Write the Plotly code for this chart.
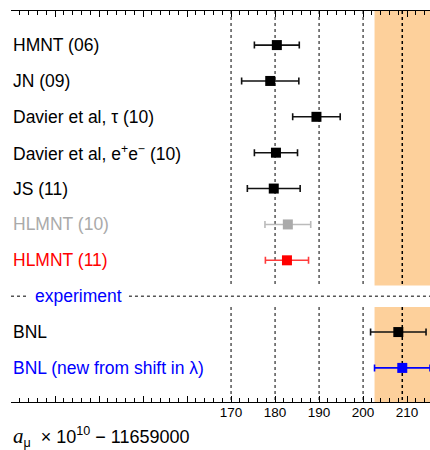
import plotly.graph_objects as go

# ---- data ----
labels = ["HMNT (06)", "JN (09)", "Davier et al, τ (10)",
          "Davier et al, e<sup>+</sup>e<sup>−</sup> (10)", "JS (11)",
          "HLMNT (10)", "HLMNT (11)", "BNL", "BNL (new from shift in λ)"]
values = [180.4, 178.9, 189.4, 180.2, 179.7, 182.9, 182.7, 208.0, 208.9]
errors = [5.1, 6.5, 5.4, 4.9, 6.0, 5.2, 4.9, 6.3, 6.3]
rows = [1, 2, 3, 4, 5, 6, 7, 9, 10]
colors = ["#000000", "#000000", "#000000", "#000000", "#000000",
          "#aaaaaa", "#ff0000", "#000000", "#0000ff"]
bar_colors = ["#111111", "#111111", "#111111", "#111111", "#111111",
              "#bbbbbb", "#ff3b3b", "#111111", "#0000ff"]
band_center = 208.9
band_halfwidth = 6.3
ref_lines = [170, 180, 190, 200]
separator_row = 8
separator_text = "experiment"
major_ticks = [120, 130, 140, 150, 160, 170, 180, 190, 200, 210]
labeled_ticks = [170, 180, 190, 200, 210]

fig = go.Figure()

XMIN, XMAX = 120, 215.2
YTOP, YBOT = 0.05, 10.95
GAP_TOP, GAP_BOT = 7.7, 8.3

# band
for y0, y1 in [(YTOP, GAP_TOP), (GAP_BOT, YBOT)]:
    fig.add_shape(type="rect", xref="x", yref="y",
                  x0=band_center - band_halfwidth, x1=band_center + band_halfwidth,
                  y0=y0, y1=y1, fillcolor="#fdd09b", line_width=0, layer="below")
    for v in ref_lines:
        fig.add_shape(type="line", xref="x", yref="y", x0=v, x1=v, y0=y0, y1=y1,
                      line=dict(color="#555555", width=1.5, dash="dot"), layer="below")
    fig.add_shape(type="line", xref="x", yref="y", x0=band_center, x1=band_center,
                  y0=y0, y1=y1, line=dict(color="#000000", width=1.5, dash="dot"),
                  layer="below")

# separator
fig.add_shape(type="line", xref="x", yref="y", x0=XMIN, x1=124.0,
              y0=separator_row, y1=separator_row,
              line=dict(color="#555555", width=1.5, dash="dot"))
fig.add_shape(type="line", xref="x", yref="y", x0=146.8, x1=XMAX,
              y0=separator_row, y1=separator_row,
              line=dict(color="#555555", width=1.5, dash="dot"))
fig.add_annotation(x=125.0, y=separator_row, xref="x", yref="y", text=separator_text,
                   showarrow=False, xanchor="left", yanchor="middle",
                   font=dict(family="Liberation Sans", size=17.5, color="#0000ff"))

# points
for lab, v, e, r, c, bc in zip(labels, values, errors, rows, colors, bar_colors):
    fig.add_trace(go.Scatter(
        x=[v], y=[r], mode="markers",
        marker=dict(symbol="square", size=10, color=c),
        error_x=dict(type="constant", value=e, color=bc, thickness=1.6, width=3.5),
        showlegend=False, hoverinfo="skip"))
    fig.add_annotation(x=0, y=r, xref="paper", yref="y", text=lab, showarrow=False,
                       xanchor="left", yanchor="middle",
                       font=dict(family="Liberation Sans", size=17.5, color=c))

# invisible trace to anchor the labelled tick axis
fig.add_trace(go.Scatter(x=[XMIN], y=[YTOP], xaxis="x2", mode="markers",
                         marker=dict(opacity=0), showlegend=False, hoverinfo="skip"))

# axis title
fig.add_annotation(x=0, y=-0.09, xref="paper", yref="paper",
                   text="<span style='font-family:Liberation Serif;font-size:21px'><i>a</i></span>"
                        "<sub>μ</sub>&nbsp; × 10<sup>10</sup>&nbsp;− 11659000",
                   showarrow=False, xanchor="left", yanchor="middle",
                   font=dict(family="Liberation Sans", size=18, color="#000000"))

fig.update_layout(
    xaxis=dict(range=[XMIN, XMAX], tickmode="array", tickvals=major_ticks,
               showticklabels=False, ticks="inside", ticklen=6, tickwidth=1.2,
               tickcolor="#000000", showline=True, linecolor="#000000", linewidth=1.3,
               mirror="ticks", showgrid=False, zeroline=False, automargin=False,
               minor=dict(tickmode="linear", tick0=120, dtick=2, ticks="inside",
                          ticklen=3.5, tickwidth=1, tickcolor="#000000", showgrid=False)),
    xaxis2=dict(range=[XMIN, XMAX], overlaying="x", side="bottom", anchor="y",
                tickmode="array", tickvals=labeled_ticks, ticks="", showline=False,
                showgrid=False, zeroline=False, automargin=False,
                tickfont=dict(family="Liberation Sans", size=13.5, color="#000000")),
    yaxis=dict(range=[YBOT, YTOP], visible=False, showgrid=False, zeroline=False),
    width=430, height=450, margin=dict(l=11, r=0, t=11, b=48),
    plot_bgcolor="white", paper_bgcolor="white")

fig.write_html("out.html", config={"displayModeBar": False},
               post_script="document.body.style.margin='0';document.body.style.overflow='hidden';")
